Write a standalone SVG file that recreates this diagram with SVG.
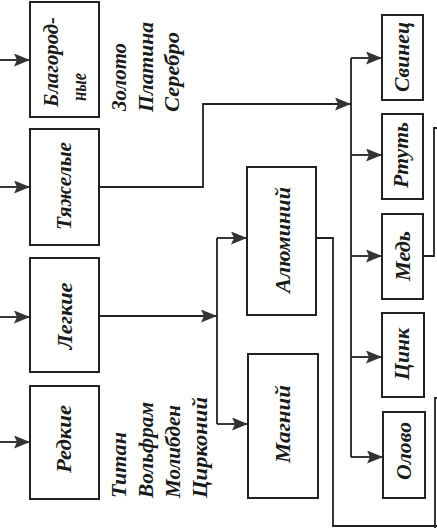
<svg xmlns="http://www.w3.org/2000/svg" width="437" height="528" viewBox="0 0 437 528">
<style>
.box{fill:#fff;stroke:#222;stroke-width:2}
.ln{fill:none;stroke:#222;stroke-width:1.8}
.t{font-family:"Liberation Serif",serif;font-style:italic;font-weight:bold;font-size:22px;fill:#1a1a1a}
</style>
<defs>
<marker id="ah" markerUnits="userSpaceOnUse" markerWidth="17" markerHeight="13" refX="16" refY="6.5" orient="auto">
<path d="M0,0 L16,6.5 L0,13 L3,6.5 z" fill="#333"/>
</marker>
</defs>
<rect width="437" height="528" fill="#fff"/>
<g id="connectors">
<line class="ln" x1="0" y1="60" x2="30" y2="60" marker-end="url(#ah)"/>
<line class="ln" x1="0" y1="187" x2="30" y2="187" marker-end="url(#ah)"/>
<line class="ln" x1="0" y1="317" x2="30" y2="317" marker-end="url(#ah)"/>
<line class="ln" x1="0" y1="442" x2="30" y2="442" marker-end="url(#ah)"/>
<polyline class="ln" points="99,187 203,187 203,104 351,104" marker-end="url(#ah)"/>
<line class="ln" x1="351" y1="58" x2="351" y2="457"/>
<line class="ln" x1="351" y1="58" x2="382" y2="58" marker-end="url(#ah)"/>
<line class="ln" x1="351" y1="155" x2="382" y2="155" marker-end="url(#ah)"/>
<line class="ln" x1="351" y1="256" x2="382" y2="256" marker-end="url(#ah)"/>
<line class="ln" x1="351" y1="357" x2="382" y2="357" marker-end="url(#ah)"/>
<line class="ln" x1="351" y1="457" x2="383" y2="457" marker-end="url(#ah)"/>
<line class="ln" x1="99" y1="316" x2="217" y2="316" marker-end="url(#ah)"/>
<line class="ln" x1="217" y1="238" x2="217" y2="424"/>
<line class="ln" x1="217" y1="238" x2="247" y2="238" marker-end="url(#ah)"/>
<line class="ln" x1="217" y1="424" x2="248" y2="424" marker-end="url(#ah)"/>
<polyline class="ln" points="316,238 333,238 333,526 437,526"/>
<polyline class="ln" points="423,256 434,256 434,128 437,128"/>
<polyline class="ln" points="437,398 435,398 435,528"/>
</g>
<g id="blagorodnye">
<rect class="box" x="30" y="2" width="69" height="115"/>
<text class="t" x="58" y="107" transform="rotate(-90 58 107)" textLength="90" lengthAdjust="spacingAndGlyphs">Благород-</text>
<text class="t" x="86" y="101" transform="rotate(-90 86 101)" textLength="28" lengthAdjust="spacingAndGlyphs">ные</text>
</g>
<g id="tyazhelye">
<rect class="box" x="30" y="129" width="69" height="116"/>
<text class="t" x="71" y="186" text-anchor="middle" transform="rotate(-90 71 186)" textLength="88" lengthAdjust="spacingAndGlyphs">Тяжелые</text>
</g>
<g id="legkie">
<rect class="box" x="30" y="258" width="69" height="114"/>
<text class="t" x="72" y="316" text-anchor="middle" transform="rotate(-90 72 316)" textLength="67" lengthAdjust="spacingAndGlyphs">Легкие</text>
</g>
<g id="redkie">
<rect class="box" x="30" y="386" width="69" height="113"/>
<text class="t" x="71" y="439" text-anchor="middle" transform="rotate(-90 71 439)" textLength="68" lengthAdjust="spacingAndGlyphs">Редкие</text>
</g>
<g id="noble-list">
<text class="t" x="126" y="111" transform="rotate(-90 126 111)" textLength="68" lengthAdjust="spacingAndGlyphs">Золото</text>
<text class="t" x="153" y="112" transform="rotate(-90 153 112)" textLength="90" lengthAdjust="spacingAndGlyphs">Платина</text>
<text class="t" x="179" y="112" transform="rotate(-90 179 112)" textLength="80" lengthAdjust="spacingAndGlyphs">Серебро</text>
</g>
<g id="rare-list">
<text class="t" x="126" y="498" transform="rotate(-90 126 498)" textLength="66" lengthAdjust="spacingAndGlyphs">Титан</text>
<text class="t" x="153" y="498" transform="rotate(-90 153 498)" textLength="96" lengthAdjust="spacingAndGlyphs">Вольфрам</text>
<text class="t" x="180" y="498" transform="rotate(-90 180 498)" textLength="93" lengthAdjust="spacingAndGlyphs">Молибден</text>
<text class="t" x="207" y="498" transform="rotate(-90 207 498)" textLength="101" lengthAdjust="spacingAndGlyphs">Цирконий</text>
</g>
<g id="aluminiy">
<rect class="box" x="247" y="167" width="69" height="148"/>
<text class="t" x="290" y="240" text-anchor="middle" transform="rotate(-90 290 240)" textLength="106" lengthAdjust="spacingAndGlyphs">Алюминий</text>
</g>
<g id="magniy">
<rect class="box" x="248" y="354" width="70" height="144"/>
<text class="t" x="290" y="424" text-anchor="middle" transform="rotate(-90 290 424)" textLength="78" lengthAdjust="spacingAndGlyphs">Магний</text>
</g>
<g id="svinets">
<rect class="box" x="382" y="15" width="41" height="85"/>
<text class="t" x="409" y="57" text-anchor="middle" transform="rotate(-90 409 57)" textLength="70" lengthAdjust="spacingAndGlyphs">Свинец</text>
</g>
<g id="rtut">
<rect class="box" x="382" y="114" width="41" height="85"/>
<text class="t" x="408" y="155" text-anchor="middle" transform="rotate(-90 408 155)" textLength="66" lengthAdjust="spacingAndGlyphs">Ртуть</text>
</g>
<g id="med">
<rect class="box" x="382" y="214" width="41" height="85"/>
<text class="t" x="410" y="256" text-anchor="middle" transform="rotate(-90 410 256)" textLength="50" lengthAdjust="spacingAndGlyphs">Медь</text>
</g>
<g id="tsink">
<rect class="box" x="382" y="313" width="42" height="84"/>
<text class="t" x="409" y="354" text-anchor="middle" transform="rotate(-90 409 354)" textLength="52" lengthAdjust="spacingAndGlyphs">Цинк</text>
</g>
<g id="olovo">
<rect class="box" x="383" y="412" width="42" height="86"/>
<text class="t" x="411" y="451" text-anchor="middle" transform="rotate(-90 411 451)" textLength="58" lengthAdjust="spacingAndGlyphs">Олово</text>
</g>
</svg>
